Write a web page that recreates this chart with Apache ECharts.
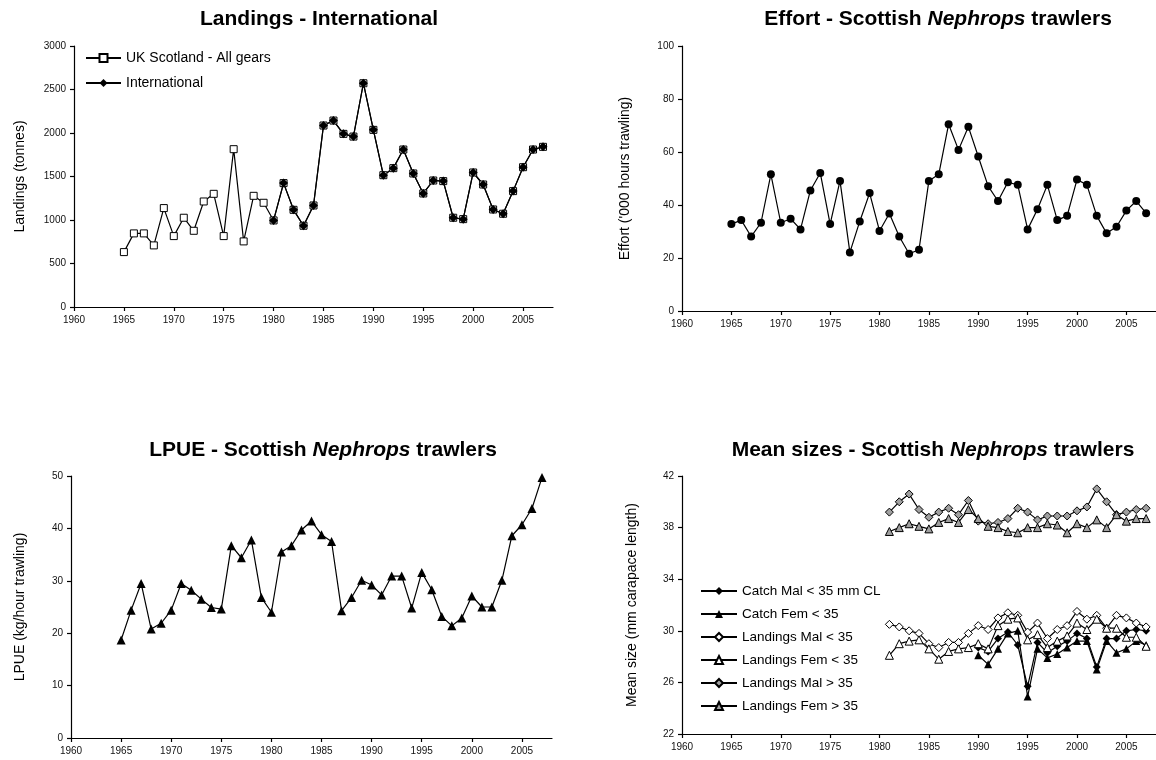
<!DOCTYPE html>
<html>
<head>
<meta charset="utf-8">
<script src="https://cdn.jsdelivr.net/npm/echarts@6/dist/echarts.min.js"></script>
<style>html,body{margin:0;padding:0;background:#fff}#c{width:1156px;height:760px}</style>
</head>
<body>
<div id="c"></div>
<script>
// ---- data ----
var years = [1965,1966,1967,1968,1969,1970,1971,1972,1973,1974,1975,1976,1977,1978,1979,
  1980,1981,1982,1983,1984,1985,1986,1987,1988,1989,1990,1991,1992,1993,1994,1995,1996,1997,1998,1999,
  2000,2001,2002,2003,2004,2005,2006,2007];
var yearsIntl = [1980,1981,1982,1983,1984,1985,1986,1987,1988,1989,1990,1991,1992,1993,1994,1995,1996,1997,1998,1999,
  2000,2001,2002,2003,2004,2005,2006,2007];
var years1981 = [1981,1982,1983,1984,1985,1986,1987,1988,1989,1990,1991,1992,1993,1994,1995,1996,1997,1998,1999,
  2000,2001,2002,2003,2004,2005,2006,2007];
var years1990 = [1990,1991,1992,1993,1994,1995,1996,1997,1998,1999,2000,2001,2002,2003,2004,2005,2006,2007];

var landingsUK = [631,846,846,708,1137,815,1026,876,1213,1301,815,1814,754,1278,1198,
  995,1424,1117,934,1167,2086,2143,1990,1959,2572,2036,1515,1596,1810,1535,1305,1454,1447,1026,1010,
  1546,1408,1121,1072,1332,1607,1810,1841];
var landingsIntl = [995,1424,1117,934,1167,2086,2143,1990,1959,2572,2036,1515,1596,1810,1535,1305,1454,1447,1026,1010,
  1546,1408,1121,1072,1332,1607,1810,1841];
var effort = [32.8,34.3,28.1,33.3,51.6,33.3,34.8,30.8,45.5,52.1,32.8,49.1,22.1,33.8,44.5,
  30.2,36.8,28.1,21.6,23.1,49.1,51.6,70.5,60.8,69.5,58.3,47.1,41.5,48.6,47.6,30.8,38.4,47.6,34.3,35.9,
  49.6,47.6,35.9,29.3,31.8,37.9,41.5,36.9];
var lpue = [18.7,24.4,29.5,20.8,21.9,24.4,29.5,28.2,26.5,24.9,24.6,36.7,34.4,37.8,26.8,
  24.0,35.5,36.7,39.7,41.4,38.8,37.5,24.3,26.8,30.1,29.2,27.3,30.9,30.9,24.8,31.6,28.3,23.2,21.4,22.9,
  27.1,25.0,25.0,30.1,38.6,40.7,43.8,49.7];
var catchMalLt35 = [28.7,28.4,29.4,29.9,28.9,25.7,29.1,28.3,28.8,29.2,29.8,29.4,27.2,29.4,29.4,30.0,30.1,30.0];
var catchFemLt35 = [28.1,27.4,28.6,29.8,30.0,24.9,28.6,27.9,28.2,28.7,29.2,29.2,27.0,29.2,28.3,28.6,29.2,28.9];
var landMalLt35 = [30.5,30.3,30.0,29.8,29.0,28.7,29.1,29.1,29.8,30.4,30.1,31.0,31.4,31.2,29.9,30.6,29.4,30.1,30.4,
  31.5,30.9,31.2,30.2,31.2,31.0,30.6,30.3];
var landFemLt35 = [28.1,29.0,29.2,29.3,28.6,27.8,28.4,28.6,28.7,29.0,28.6,30.4,30.9,31.0,29.3,29.7,28.7,29.2,29.6,
  30.6,30.1,30.9,30.2,30.2,29.5,29.5,28.8];
var landMalGt35 = [39.2,40.0,40.6,39.4,38.8,39.2,39.5,39.0,40.1,38.5,38.3,38.4,38.7,39.5,39.2,38.6,38.9,38.9,38.9,
  39.3,39.6,41.0,40.0,39.0,39.2,39.4,39.5];
var landFemGt35 = [37.7,38.0,38.3,38.1,37.9,38.4,38.7,38.4,39.4,38.7,38.1,38.0,37.7,37.6,38.0,38.0,38.3,38.2,37.6,
  38.3,38.0,38.6,38.0,39.0,38.5,38.7,38.7];

var xTicks = [1960,1965,1970,1975,1980,1985,1990,1995,2000,2005];

function pairs(xs, ys){ return xs.map(function(x,i){ return [x, ys[i]]; }); }

var FONT = '"Liberation Sans", Arial, sans-serif';
var GREY = '#a0a0a0';
function plain(v){ return String(v); }

function xAxis(gi){
  return {
    type:'value', gridIndex:gi, min:1960, max:2008, interval:5,
    axisLine:{show:true, onZero:false, lineStyle:{color:'#000', width:1.2}},
    axisTick:{show:true, length:4, lineStyle:{color:'#000', width:1.2}, customValues:xTicks},
    axisLabel:{color:'#111', fontSize:10, fontFamily:FONT, margin:8, customValues:xTicks, formatter:plain},
    splitLine:{show:false}
  };
}
function yAxis(gi, min, max, itv, name, gap){
  return {
    type:'value', gridIndex:gi, min:min, max:max, interval:itv,
    name:name, nameLocation:'middle', nameGap:gap, nameRotate:90,
    nameTextStyle:{color:'#000', fontSize:14, fontFamily:FONT},
    axisLine:{show:true, lineStyle:{color:'#000', width:1.2}},
    axisTick:{show:true, length:4, lineStyle:{color:'#000', width:1.2}},
    axisLabel:{color:'#111', fontSize:10, fontFamily:FONT, margin:8, formatter:plain},
    splitLine:{show:false}
  };
}
function line(name, gi, data, symbol, size, fill, border){
  return {
    name:name, type:'line', xAxisIndex:gi, yAxisIndex:gi, data:data,
    symbol:symbol, symbolSize:size, showSymbol:true, animation:false,
    lineStyle:{color:'#000', width:1.2},
    itemStyle:{color:fill, borderColor:border || fill, borderWidth: border ? 1 : 0},
    emphasis:{disabled:true}
  };
}
function title(x, y, parts){
  return {
    type:'text', x:x, y:y, silent:true,
    style:{
      text:parts, align:'center', verticalAlign:'middle',
      rich:{
        b:{fontSize:21, fontWeight:'bold', fontFamily:FONT, fill:'#000'},
        i:{fontSize:21, fontWeight:'bold', fontStyle:'italic', fontFamily:FONT, fill:'#000'}
      }
    }
  };
}

var chart = echarts.init(document.getElementById('c'), null, {renderer:'canvas'});
chart.setOption({
  animation:false,
  backgroundColor:'#fff',
  textStyle:{fontFamily:FONT},
  graphic:[
    title(319, 19, '{b|Landings - International}'),
    title(938, 19, '{b|Effort - Scottish }{i|Nephrops}{b| trawlers}'),
    title(323, 450, '{b|LPUE - Scottish }{i|Nephrops}{b| trawlers}'),
    title(933, 450, '{b|Mean sizes - Scottish }{i|Nephrops}{b| trawlers}')
  ],
  grid:[
    {left:74, top:46, width:479, height:261},
    {left:682, top:46, width:482, height:265},
    {left:71, top:476, width:481, height:262},
    {left:682, top:476, width:478, height:258}
  ],
  xAxis:[xAxis(0), xAxis(1), xAxis(2), xAxis(3)],
  yAxis:[
    yAxis(0, 0, 3000, 500, 'Landings (tonnes)', 47),
    yAxis(1, 0, 100, 20, "Effort ('000 hours trawling)", 50),
    yAxis(2, 0, 50, 10, 'LPUE (kg/hour trawling)', 44),
    yAxis(3, 22, 42, 4, 'Mean size (mm carapace length)', 43)
  ],
  legend:[
    {
      orient:'vertical', left:80, top:46, itemWidth:35, itemHeight:10, itemGap:11,
      textStyle:{fontSize:14, fontFamily:FONT, color:'#000'},
      selectedMode:false,
      data:['UK Scotland - All gears','International']
    },
    {
      orient:'vertical', left:695, top:579, itemWidth:36, itemHeight:10, itemGap:9,
      textStyle:{fontSize:13.5, fontFamily:FONT, color:'#000'},
      selectedMode:false,
      data:['Catch Mal < 35 mm CL','Catch Fem < 35','Landings Mal < 35','Landings Fem < 35','Landings Mal > 35','Landings Fem > 35']
    }
  ],
  series:[
    line('UK Scotland - All gears', 0, pairs(years, landingsUK), 'rect', 7, '#fff', '#000'),
    line('International', 0, pairs(yearsIntl, landingsIntl), 'diamond', 9, '#000'),
    line('Effort', 1, pairs(years, effort), 'circle', 8, '#000'),
    line('LPUE', 2, pairs(years, lpue), 'triangle', 9, '#000'),
    line('Catch Mal < 35 mm CL', 3, pairs(years1990, catchMalLt35), 'diamond', 8, '#000'),
    line('Catch Fem < 35', 3, pairs(years1990, catchFemLt35), 'triangle', 8, '#000'),
    line('Landings Mal < 35', 3, pairs(years1981, landMalLt35), 'diamond', 8, '#fff', '#000'),
    line('Landings Fem < 35', 3, pairs(years1981, landFemLt35), 'triangle', 8, '#fff', '#000'),
    line('Landings Mal > 35', 3, pairs(years1981, landMalGt35), 'diamond', 8, GREY, '#000'),
    line('Landings Fem > 35', 3, pairs(years1981, landFemGt35), 'triangle', 8, GREY, '#000')
  ]
});
</script>
</body>
</html>
